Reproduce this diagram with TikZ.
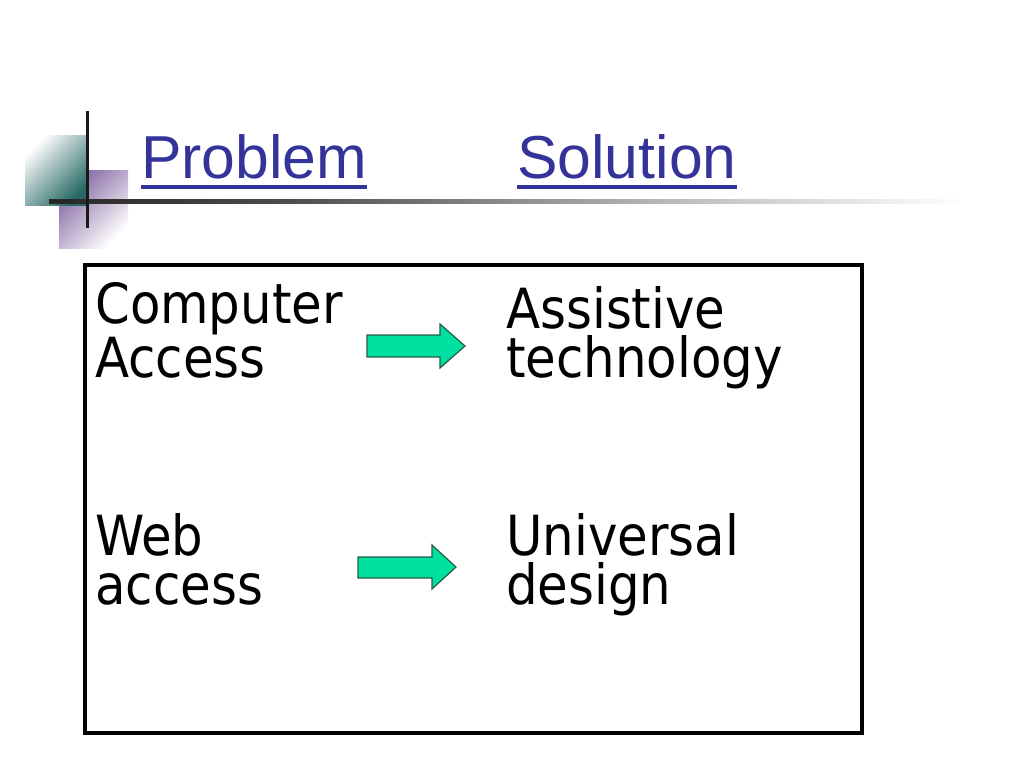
\documentclass[tikz,border=0pt]{standalone}
\usepackage{fontspec}
\setmainfont{DejaVu Sans Condensed}
\newfontfamily\titlefont{Liberation Sans}
\definecolor{titleblue}{RGB}{51,51,153}
\definecolor{arrowfill}{RGB}{0,224,160}
\definecolor{arrowline}{RGB}{40,90,70}
\definecolor{tealdark}{RGB}{40,105,100}
\definecolor{purpledark}{RGB}{128,100,160}
\pgfdeclarehorizontalshading{ruleshade}{100bp}{color(0bp)=(black!85); color(25bp)=(black!85); color(38bp)=(black!70); color(60bp)=(black!25); color(75bp)=(white); color(100bp)=(white)}
\tikzset{
  titletext/.style={font=\titlefont\fontsize{45.5}{52}\selectfont, text=titleblue, inner sep=0pt, anchor=base west},
  ulline/.style={draw=titleblue, line width=3pt},
  bodytext/.style={font=\fontsize{41.5}{36.75}\selectfont, align=left, inner sep=0pt, anchor=base west},
  blockarrow/.style={fill=arrowfill, draw=arrowline, line width=0.9pt, line join=miter},
}
\begin{document}
\begin{tikzpicture}[x=0.75pt, y=-0.75pt]
\useasboundingbox (0,0) rectangle (1024,768);
% decoration
\shade[top color=purpledark, bottom color=white, shading angle=45] (59,170) rectangle (128,248);
\shade[top color=white, bottom color=tealdark, shading angle=45] (25,135) rectangle (87,205);
\shade[shading=ruleshade] (49,199) rectangle (965,203);
\fill[black!90] (85.5,111) rectangle (88.5,228);
% titles
\node[titletext] (prob) at (141,178) {Problem};
\node[titletext] (sol) at (517,178) {Solution};
\draw[ulline] ([yshift=-7pt]prob.base west) -- ([yshift=-7pt]prob.base east);
\draw[ulline] ([yshift=-7pt]sol.base west) -- ([yshift=-7pt]sol.base east);
% box
\draw[line width=3pt] (85,265) rectangle (862,733);
% texts (anchor: baseline of the last line)
\node[bodytext] (ca) at (95,377) {Computer\\Access};
\node[bodytext] (at) at (506,377) {Assistive\\technology};
\node[bodytext] (wa) at (95,604) {Web\\access};
\node[bodytext] (ud) at (506,604) {Universal\\design};
% arrows
\draw[blockarrow] (367,335) -- (440,335) -- (440,324) -- (465,346) -- (440,368) -- (440,357) -- (367,357) -- cycle;
\draw[blockarrow] (358,557) -- (432,557) -- (432,545) -- (456,567) -- (432,589) -- (432,578) -- (358,578) -- cycle;
\end{tikzpicture}
\end{document}
